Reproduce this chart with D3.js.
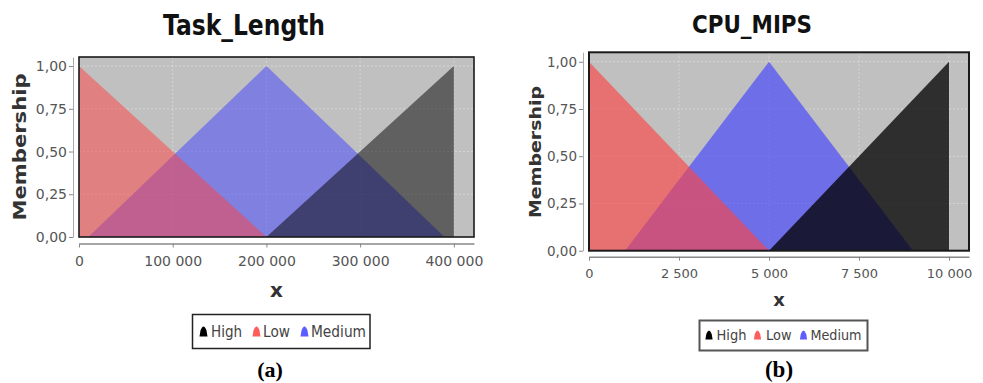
<!DOCTYPE html>
<html><head><meta charset="utf-8">
<script src="https://cdn.jsdelivr.net/npm/d3@7"></script>
<style>body{margin:0;background:#fff}svg{display:block}</style>
</head><body>
<svg id="c" width="983" height="383"></svg>
<script>
// ---- data ----
const panelTitles = ["Task_Length", "CPU_MIPS"];
const panelTags = ["(a)", "(b)"];
const seriesNames = ["High", "Low", "Medium"];
const yTicks = [0, 0.25, 0.5, 0.75, 1];

const taskTicks = [0, 100000, 200000, 300000, 400000];
const taskLow = [[0, 0], [0, 1], [200000, 0]];
const taskMedium = [[10000, 0], [200000, 1], [390000, 0]];
const taskHigh = [[200000, 0], [400000, 1], [400000, 0]];

const cpuTicks = [0, 2500, 5000, 7500, 10000];
const cpuLow = [[0, 0], [0, 1], [5000, 0]];
const cpuMedium = [[1000, 0], [5000, 1], [9000, 0]];
const cpuHigh = [[5000, 0], [10000, 1], [10000, 0]];

// ---- drawing ----
const loc = d3.formatLocale({decimal: ",", thousands: "\u00a0", grouping: [3], currency: ["", ""]});
const fmtX = loc.format(",d");
const fmtY = loc.format(".2f");
const svg = d3.select("#c");

function drawPanel(o) {
  const g = svg.append("g");
  const x = d3.scaleLinear().domain([0, o.xMax]).range([o.x0, o.x1]);
  const y = d3.scaleLinear().domain([0, o.yMax]).range([o.y1, o.y0]);

  g.append("text").attr("x", o.titleX).attr("y", o.titleY).attr("text-anchor", "middle")
    .attr("font-family", "DejaVu Sans").attr("font-weight", "bold").attr("font-size", o.titleSize)
    .attr("textLength", o.titleLen).attr("lengthAdjust", "spacingAndGlyphs")
    .attr("fill", "#111").text(o.title);

  g.append("rect").attr("x", o.x0).attr("y", o.y0).attr("width", o.x1 - o.x0).attr("height", o.y1 - o.y0)
    .attr("fill", "#c0c0c0");

  g.selectAll(".gx").data(o.xTicks).join("line")
    .attr("x1", d => x(d)).attr("x2", d => x(d)).attr("y1", o.y0).attr("y2", o.y1)
    .attr("stroke", "#fff").attr("stroke-opacity", 0.35).attr("stroke-dasharray", "2,2");
  g.selectAll(".gy").data(yTicks).join("line")
    .attr("x1", o.x0).attr("x2", o.x1).attr("y1", d => y(d)).attr("y2", d => y(d))
    .attr("stroke", "#fff").attr("stroke-opacity", 0.35).attr("stroke-dasharray", "2,2");

  const line = d3.line().x(d => x(d[0])).y(d => y(d[1]));
  o.series.forEach(s => {
    g.append("path").attr("d", line(s.pts) + "Z").attr("fill", s.color).attr("fill-opacity", s.op);
  });

  g.append("rect").attr("x", o.x0).attr("y", o.y0).attr("width", o.x1 - o.x0).attr("height", o.y1 - o.y0)
    .attr("fill", "none").attr("stroke", "#1a1a1a").attr("stroke-width", o.borderW);

  const xa = g.append("g").attr("transform", `translate(0,${o.xAxisY})`)
    .call(d3.axisBottom(x).tickValues(o.xTicks).tickFormat(fmtX).tickSize(4).tickSizeOuter(0));
  xa.select(".domain").attr("stroke", "#888").attr("stroke-width", 1.5);
  xa.selectAll(".tick line").attr("stroke", "#888");
  xa.selectAll("text").attr("font-family", "DejaVu Sans").attr("font-size", o.xTickSize)
    .attr("fill", "#555").attr("dy", "0").attr("y", o.xTickDy);

  const ya = g.append("g").attr("transform", `translate(${o.yAxisX},0)`)
    .call(d3.axisLeft(y).tickValues(yTicks).tickFormat(fmtY).tickSize(4).tickSizeOuter(0));
  ya.select(".domain").attr("stroke", "#aaa").attr("stroke-width", 1);
  ya.selectAll(".tick line").attr("stroke", "#888");
  ya.selectAll("text").attr("font-family", "DejaVu Sans").attr("font-size", o.yTickSize)
    .attr("fill", "#555").attr("x", -6);

  g.append("text").attr("transform", `translate(${o.yLabX},${o.yLabY}) rotate(-90)`)
    .attr("text-anchor", "middle").attr("dy", "0.35em")
    .attr("font-family", "DejaVu Sans").attr("font-weight", "bold").attr("font-size", o.yLabSize)
    .attr("textLength", o.yLabLen).attr("lengthAdjust", "spacingAndGlyphs")
    .attr("fill", "#333").text("Membership");
  g.append("text").attr("x", (o.x0 + o.x1) / 2).attr("y", o.xLabY).attr("text-anchor", "middle")
    .attr("font-family", "DejaVu Sans").attr("font-weight", "bold").attr("font-size", o.xLabSize)
    .attr("fill", "#333").text("x");

  g.append("rect").attr("x", o.lg.x).attr("y", o.lg.y).attr("width", o.lg.w).attr("height", o.lg.h)
    .attr("fill", "#fff").attr("stroke", o.lg.stroke).attr("stroke-width", o.lg.sw);
  const lgColors = {High: "#000", Low: "#ff4040", Medium: "#4040ff"};
  seriesNames.forEach((nm, i) => {
    const sx = o.lg.sym[i], cy = o.lg.cy;
    const s = o.lg.scale;
    g.append("path")
      .attr("d", `M${sx - 4 * s},${cy + 5 * s} L${sx - 3 * s},${cy - 1 * s} Q${sx},${cy - 9 * s} ${sx + 3 * s},${cy - 1 * s} L${sx + 4 * s},${cy + 5 * s} Z`)
      .attr("fill", lgColors[nm]).attr("fill-opacity", nm === "High" ? 1 : 0.85);
    g.append("text").attr("x", o.lg.tx[i]).attr("y", o.lg.base)
      .attr("font-family", "DejaVu Sans").attr("font-size", o.lg.size).attr("fill", "#444")
      .attr("textLength", o.lg.tl[i]).attr("lengthAdjust", "spacingAndGlyphs").text(nm);
  });

  g.append("text").attr("x", o.tagX).attr("y", o.tagY).attr("text-anchor", "middle")
    .attr("font-family", "Liberation Serif").attr("font-weight", "bold").attr("font-size", o.tagSize)
    .attr("fill", "#000").text(o.tag);
}

drawPanel({
  title: panelTitles[0], tag: panelTags[0],
  titleX: 244, titleY: 35, titleSize: 28, titleLen: 162,
  x0: 79, x1: 474, y0: 57, y1: 237, xMax: 421500, yMax: 1.053,
  xTicks: taskTicks, xAxisY: 243.5, xTickDy: 22, xTickSize: 14,
  yAxisX: 73, yTickSize: 14, borderW: 1.6,
  yLabX: 20, yLabY: 147, yLabSize: 17, yLabLen: 147,
  xLabY: 297, xLabSize: 20,
  series: [
    {pts: taskMedium, color: "#4040ff", op: 0.5},
    {pts: taskLow, color: "#ff4040", op: 0.5},
    {pts: taskHigh, color: "#000", op: 0.5}
  ],
  lg: {x: 192.5, y: 314.5, w: 177.5, h: 34, stroke: "#222", sw: 1.5, cy: 331.5, base: 337,
       sym: [203.5, 256.5, 304.5], tx: [211, 263, 311], tl: [31, 27, 55], size: 15, scale: 1},
  tagX: 270, tagY: 377, tagSize: 22
});

drawPanel({
  title: panelTitles[1], tag: panelTags[1],
  titleX: 752, titleY: 33, titleSize: 25, titleLen: 120,
  x0: 589, x1: 969, y0: 52.3, y1: 250.7, xMax: 10555, yMax: 1.05,
  xTicks: cpuTicks, xAxisY: 256.7, xTickDy: 21, xTickSize: 13,
  yAxisX: 583, yTickSize: 13.5, borderW: 2,
  yLabX: 535, yLabY: 152, yLabSize: 16, yLabLen: 132,
  xLabY: 306, xLabSize: 18,
  series: [
    {pts: cpuMedium, color: "#4040ff", op: 0.64},
    {pts: cpuLow, color: "#ff4040", op: 0.62},
    {pts: cpuHigh, color: "#000", op: 0.76}
  ],
  lg: {x: 699.5, y: 320.5, w: 168, h: 30, stroke: "#555", sw: 2, cy: 335, base: 339.5,
       sym: [709, 757.5, 803.5], tx: [716.5, 766, 810.5], tl: [30, 25.5, 51], size: 14, scale: 0.9},
  tagX: 779, tagY: 377, tagSize: 23
});
</script>
</body></html>
